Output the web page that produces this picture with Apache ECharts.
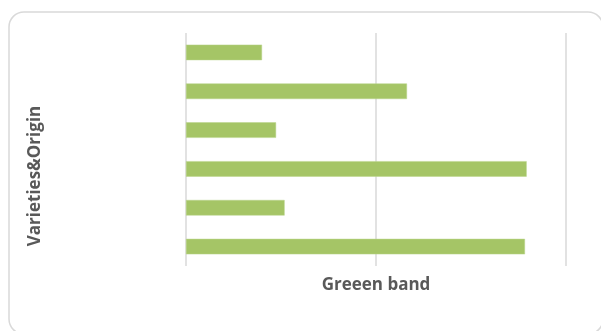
<!DOCTYPE html>
<html>
<head>
<meta charset="utf-8">
<script src="https://cdn.jsdelivr.net/npm/echarts@6/dist/echarts.min.js"></script>
<style>
html,body{margin:0;padding:0;background:#fff;}
#chart{width:601px;height:331px;}
</style>
</head>
<body>
<div id="chart"></div>
<script>
// Categories listed top to bottom (labels hidden in the reference)
const categories = ['1', '2', '3', '4', '5', '6'];
const greenBand = [0.40, 1.163, 0.474, 1.793, 0.519, 1.784];
const xTicks = [0, 1, 2];
const xTitle = 'Greeen band';
const yTitle = 'Varieties&Origin';

const chart = echarts.init(document.getElementById('chart'), null, {renderer: 'canvas'});
chart.setOption({
  animation: false,
  backgroundColor: '#ffffff',
  graphic: [{
    type: 'rect',
    shape: {x: 9, y: 12, width: 594, height: 322, r: 15},
    style: {fill: 'none', stroke: '#d9d9d9', lineWidth: 1.5},
    silent: true,
    z: -1
  }, {
    type: 'text',
    x: 35, y: 176,
    rotation: Math.PI / 2,
    style: {
      text: yTitle,
      fontFamily: 'Open Sans', fontWeight: 'bold', fontSize: 17, fill: '#595959',
      align: 'center', verticalAlign: 'middle'
    },
    silent: true
  }],
  grid: {left: 186, right: 35, top: 33, bottom: 65, containLabel: false},
  xAxis: {
    type: 'value',
    min: xTicks[0],
    max: xTicks[xTicks.length - 1],
    interval: 1,
    name: xTitle,
    nameLocation: 'middle',
    nameGap: 11,
    nameTextStyle: {fontFamily: 'Open Sans', fontWeight: 'bold', fontSize: 17, color: '#595959'},
    axisLine: {show: false},
    axisTick: {show: false},
    axisLabel: {show: false},
    splitLine: {show: true, lineStyle: {color: '#d9d9d9', width: 1.5}}
  },
  yAxis: {
    type: 'category',
    data: categories,
    inverse: true,
    axisLine: {show: false},
    axisTick: {show: false},
    axisLabel: {show: false},
    splitLine: {show: false}
  },
  series: [{
    type: 'bar',
    data: greenBand,
    barCategoryGap: '60%',
    itemStyle: {color: '#a5c566', borderColor: '#b9d48a', borderWidth: 0.5}
  }]
});
</script>
</body>
</html>
